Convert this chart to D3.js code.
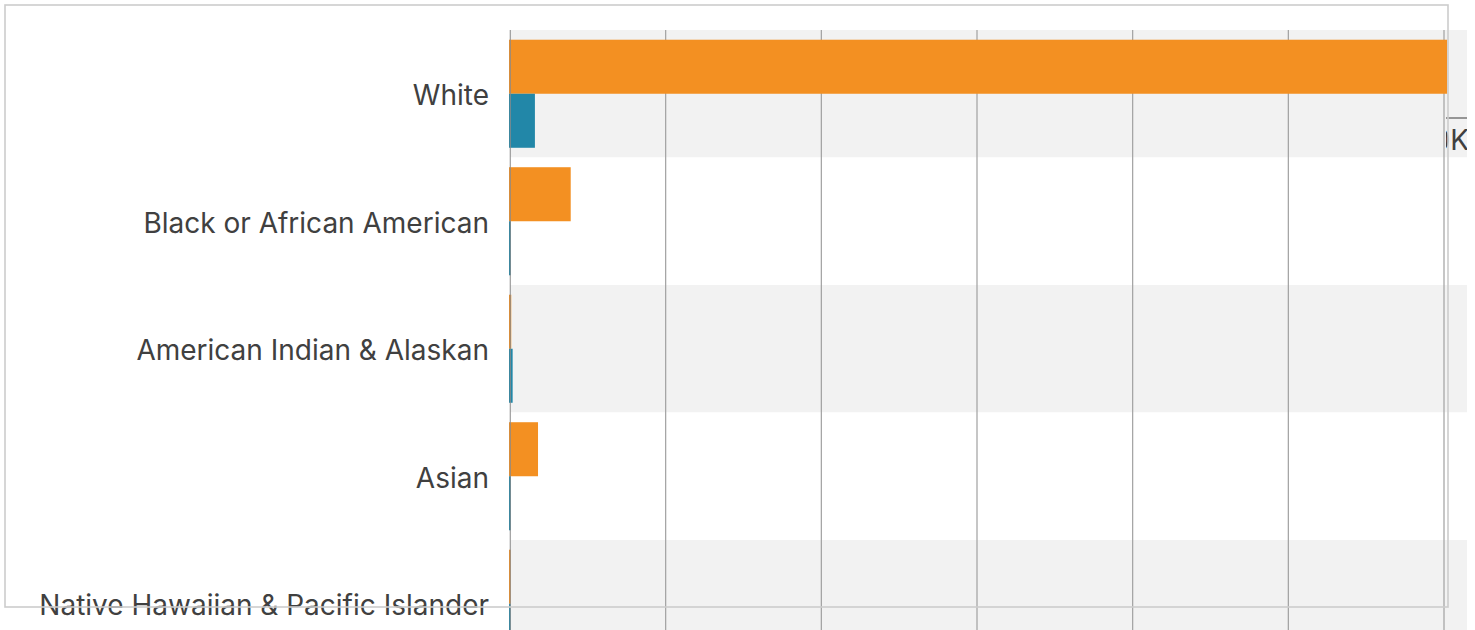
<!DOCTYPE html>
<html>
<head>
  <meta charset="utf-8">
  <script src="https://d3js.org/d3.v7.min.js"></script>
  <style>
  body {
    margin: 0;
    background: #fff;
  }
  text {
    font-family: Inter, "Noto Sans", sans-serif;
  }
  </style>
</head>
<body>
  <script type="text/javascript">

  // categories and the two series
  var categories = ['White', 'Black or African American', 'American Indian & Alaskan',
                    'Asian', 'Native Hawaiian & Pacific Islander'];
  var series_a = [60200, 3900, 80, 1800, 50];   // orange
  var series_b = [1600, 60, 170, 60, 50];       // teal
  var x_ticks = [0, 10000, 20000, 30000, 40000, 50000, 60000];
  var corner_label = '60K';

  var width = 1475,
      height = 630,
      plot_left = 510,
      plot_right = 1467,
      plot_top = 30,
      band = 127.5,
      colour_a = '#f39022',
      colour_b = '#2287a8';

  var svg = d3.select('body')
                .append('svg')
                  .attr('width', width)
                  .attr('height', height);

  var x_scale = d3.scaleLinear().domain([0, 60000]).range([plot_left, 1444]);
  var y_scale = d3.scaleBand().domain(categories)
                  .range([plot_top, plot_top + band * categories.length]);
  var sub = d3.scaleBand().domain(['a', 'b']).range([0, band]).paddingOuter(0.18).paddingInner(0);

  var chart = svg.append('g').attr('class', 'chart');

  // alternating row bands
  chart.selectAll('rect.band')
    .data(categories)
    .enter()
    .append('rect')
      .attr('class', 'band')
      .attr('x', plot_left)
      .attr('y', function(d) { return y_scale(d); })
      .attr('width', plot_right - plot_left)
      .attr('height', y_scale.bandwidth())
      .attr('fill', function(d, i) { return i % 2 === 0 ? '#f2f2f2' : '#ffffff'; });

  // vertical grid
  chart.selectAll('line.grid')
    .data(x_ticks.slice(1))
    .enter()
    .append('line')
      .attr('class', 'grid')
      .attr('x1', function(d) { return x_scale(d); })
      .attr('x2', function(d) { return x_scale(d); })
      .attr('y1', plot_top)
      .attr('y2', height)
      .attr('stroke', '#a0a0a0')
      .attr('stroke-width', 1.2);

  // bars
  var rows = chart.selectAll('g.row')
    .data(categories)
    .enter()
    .append('g')
      .attr('class', 'row')
      .attr('transform', function(d) { return 'translate(0,' + y_scale(d) + ')'; });

  rows.append('rect')
    .attr('x', x_scale(0) - 1)
    .attr('y', sub('a'))
    .attr('width', function(d, i) { return x_scale(series_a[i]) - x_scale(0) + 1; })
    .attr('height', sub.bandwidth())
    .attr('fill', colour_a);

  rows.append('rect')
    .attr('x', x_scale(0) - 1)
    .attr('y', sub('b'))
    .attr('width', function(d, i) { return x_scale(series_b[i]) - x_scale(0) + 1; })
    .attr('height', sub.bandwidth())
    .attr('fill', colour_b);

  // axis line at zero, over the bar starts
  chart.append('line')
    .attr('x1', x_scale(0) + 0.3).attr('x2', x_scale(0) + 0.3)
    .attr('y1', plot_top).attr('y2', height)
    .attr('stroke', '#8a8a8a')
    .attr('stroke-opacity', 0.85)
    .attr('stroke-width', 1.2);

  // category labels
  chart.selectAll('text.cat')
    .data(categories)
    .enter()
    .append('text')
      .attr('class', 'cat')
      .attr('x', 489)
      .attr('y', function(d) { return y_scale(d) + y_scale.bandwidth() / 2; })
      .attr('dy', '0.41em')
      .attr('text-anchor', 'end')
      .attr('font-size', 28)
      .attr('fill', '#404040')
      .text(function(d) { return d; });

  // clipped corner tick label
  svg.append('clipPath').attr('id', 'corner')
    .append('rect').attr('x', 1446).attr('y', 100).attr('width', 21).attr('height', 60);
  var corner = svg.append('g').attr('clip-path', 'url(#corner)');
  corner.append('line')
    .attr('x1', 1446).attr('x2', 1470).attr('y1', 118).attr('y2', 118)
    .attr('stroke', '#777').attr('stroke-width', 1.5);
  corner.append('text')
    .attr('x', 1469).attr('y', 150)
    .attr('text-anchor', 'end')
    .attr('font-size', 28)
    .attr('fill', '#404040')
    .text(corner_label);

  // overlay frame
  svg.append('rect')
    .attr('x', 5).attr('y', 5)
    .attr('width', 1443).attr('height', 602)
    .attr('fill', 'none')
    .attr('stroke', '#cccccc')
    .attr('stroke-width', 1.6);

  </script>
</body>
</html>
